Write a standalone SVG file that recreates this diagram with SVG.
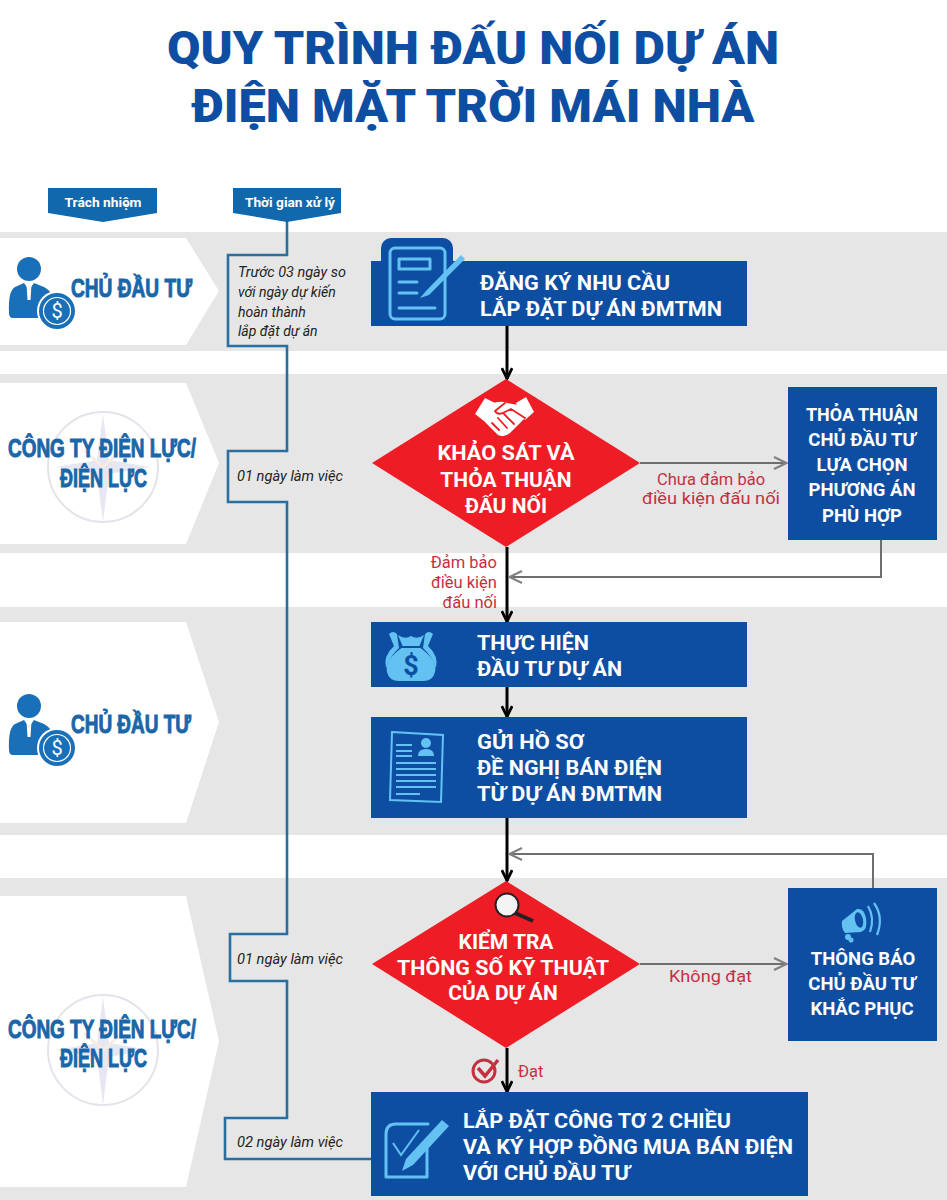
<svg xmlns="http://www.w3.org/2000/svg" xmlns:xlink="http://www.w3.org/1999/xlink" width="947" height="1200" viewBox="0 0 947 1200">
<style>
.band{fill:#e6e6e6}
.panel{fill:#fff}
.box{fill:#0d4ea3}
.dia{fill:#ee1c25}
.hdr{fill:#1268ad}
text{font-family:Roboto,"Liberation Sans",sans-serif}
.title{font-size:47px;font-weight:900;fill:#0d4ea3;text-anchor:middle}
.who{font-family:"Liberation Sans",Roboto,sans-serif;font-weight:700;fill:#1a66a8;stroke:#1a66a8;stroke-width:1;font-size:26px}
.h{font-size:13px;font-weight:700;fill:#fff;text-anchor:middle}
.t{font-size:14px;font-style:italic;fill:#222}
.w{font-weight:700;fill:#fff;font-size:21px}
.wm{font-weight:700;fill:#fff;font-size:21px;text-anchor:middle}
.wr{font-weight:700;fill:#fff;font-size:18.5px;text-anchor:middle}
.r{font-size:16.5px;fill:#c5303f;font-weight:400}
.tl{fill:none;stroke:#2b6f9f;stroke-width:2.6}
.blk{fill:none;stroke:#000;stroke-width:3;marker-end:url(#ab)}
.gry{fill:none;stroke:#6e6e6e;stroke-width:2;marker-end:url(#ag)}
.ic{fill:none;stroke:#63c2f2;stroke-width:3;stroke-linecap:round;stroke-linejoin:round}
.icf{fill:#63c2f2}
</style>
<defs>
<marker id="ab" viewBox="0 0 14 12" refX="13" refY="6" markerWidth="14" markerHeight="12" markerUnits="userSpaceOnUse" orient="auto"><path d="M2 0.8L12.5 6L2 11.2" fill="none" stroke="#000" stroke-width="2.8"/></marker>
<marker id="ag" viewBox="0 0 16 14" refX="15" refY="7" markerWidth="16" markerHeight="14" markerUnits="userSpaceOnUse" orient="auto"><path d="M2 1L14.500 7L2 13" fill="none" stroke="#808080" stroke-width="2.200"/></marker>
<g id="person">
<circle cx="29" cy="269" r="12" fill="#1a70b8"/>
<path d="M9 313Q8 291 15 287L24 283L29 290L34 283L44 287Q50 290 52 296Q40 300 39 318H13Q9 318 9 313Z" fill="#1a70b8"/>
<path d="M26.500 284L29 290L31.500 284L30.500 300H27.500Z" fill="#fff"/>
<circle cx="57" cy="311" r="20" fill="#fff"/>
<circle cx="57" cy="311" r="18" fill="#1a70b8"/>
<circle cx="57" cy="311" r="13.500" fill="none" stroke="#fff" stroke-width="1.200"/>
<text x="57" y="318" font-size="20" fill="#fff" text-anchor="middle">$</text>
</g>
<g id="logo" fill="none">
<circle cx="103" cy="467" r="55" stroke="#e2e4ea" stroke-width="2"/>
<path d="M103 414L109 460L150 467L109 474L103 522L97 474L56 467L97 460Z" fill="#e6e7f3"/>
<path d="M84 450L103 467L122 450" stroke="#f6ecdf" stroke-width="3"/>
</g>
</defs>

<g id="bands">
<rect class="band" x="0" y="232" width="947" height="119"/>
<rect class="band" x="0" y="374" width="947" height="179"/>
<rect class="band" x="0" y="607" width="947" height="228"/>
<rect class="band" x="0" y="878" width="947" height="322"/>
<path class="panel" d="M0 238H186L219 291L186 345H0Z"/>
<path class="panel" d="M0 383H186L219 463L186 544H0Z"/>
<path class="panel" d="M0 622H186L219 722L186 823H0Z"/>
<path class="panel" d="M0 896H186L219 1041L186 1187H0Z"/>
</g>

<g id="title">
<text class="title" x="473" y="64" textLength="612" lengthAdjust="spacingAndGlyphs">QUY TRÌNH ĐẤU NỐI DỰ ÁN</text>
<text class="title" x="473" y="122" textLength="563" lengthAdjust="spacingAndGlyphs">ĐIỆN MẶT TRỜI MÁI NHÀ</text>
</g>

<g id="header-trach-nhiem">
<path class="hdr" d="M48 188H157V213L103 222L48 213Z"/>
<text class="h" x="103" y="207" textLength="77" lengthAdjust="spacingAndGlyphs">Trách nhiệm</text>
</g>
<g id="timeline">
<path class="tl" d="M287 218V255H228V346H287V451H228V502H287V934H230V981H287V1118H225V1159H372"/>
</g>
<g id="header-thoi-gian">
<path class="hdr" d="M233 188H341V213L287 222L233 213Z"/>
<text class="h" x="290" y="207" textLength="90" lengthAdjust="spacingAndGlyphs">Thời gian xử lý</text>
</g>

<g id="time-labels">
<text class="t" x="238" y="277" textLength="108" lengthAdjust="spacingAndGlyphs">Trước 03 ngày so</text>
<text class="t" x="238" y="297">với ngày dự kiến</text>
<text class="t" x="238" y="317">hoàn thành</text>
<text class="t" x="238" y="336">lắp đặt dự án</text>
<text class="t" x="237" y="481" textLength="106" lengthAdjust="spacingAndGlyphs">01 ngày làm việc</text>
<text class="t" x="237" y="964" textLength="106" lengthAdjust="spacingAndGlyphs">01 ngày làm việc</text>
<text class="t" x="237" y="1147" textLength="106" lengthAdjust="spacingAndGlyphs">02 ngày làm việc</text>
</g>

<g id="who-1">
<use xlink:href="#person" href="#person"/>
<text class="who" x="71" y="297" textLength="121" lengthAdjust="spacingAndGlyphs">CHỦ ĐẦU TƯ</text>
</g>
<g id="who-2">
<use xlink:href="#logo" href="#logo"/>
<text class="who" x="8" y="457" textLength="188" lengthAdjust="spacingAndGlyphs">CÔNG TY ĐIỆN LỰC/</text>
<text class="who" x="60" y="487" textLength="87" lengthAdjust="spacingAndGlyphs">ĐIỆN LỰC</text>
</g>
<g id="who-3">
<use xlink:href="#person" href="#person" y="437"/>
<text class="who" x="71" y="733" textLength="120" lengthAdjust="spacingAndGlyphs">CHỦ ĐẦU TƯ</text>
</g>
<g id="who-4">
<use xlink:href="#logo" href="#logo" y="583"/>
<text class="who" x="8" y="1038" textLength="188" lengthAdjust="spacingAndGlyphs">CÔNG TY ĐIỆN LỰC/</text>
<text class="who" x="60" y="1067" textLength="87" lengthAdjust="spacingAndGlyphs">ĐIỆN LỰC</text>
</g>

<g id="connectors">
<path class="blk" d="M507 326V379"/>
<path class="blk" d="M507 547V622"/>
<path class="blk" d="M507 687V717"/>
<path class="blk" d="M507 818V881"/>
<path class="blk" d="M507 1048V1092"/>
<path class="gry" d="M640 463H787"/>
<path class="gry" d="M881 540V577H509"/>
<path class="gry" d="M640 964H787"/>
<path class="gry" d="M873 888V854H509"/>
</g>

<g id="node-dang-ky">
<rect class="box" x="371" y="261" width="376" height="65"/>
<rect class="box" x="381" y="238" width="72" height="50" rx="10"/>
<rect class="ic" x="390" y="248" width="55" height="71" rx="5"/>
<path class="ic" d="M399 259H430V269H399ZM399 282H417M399 293H417M399 308H435" stroke-width="2.500"/>
<path d="M461 255L426 291L420 298L429 295L465 259Z" class="icf"/>
<text class="w" x="480" y="290" textLength="190" lengthAdjust="spacingAndGlyphs">ĐĂNG KÝ NHU CẦU</text>
<text class="w" x="480" y="316" textLength="242" lengthAdjust="spacingAndGlyphs">LẮP ĐẶT DỰ ÁN ĐMTMN</text>
</g>

<g id="node-khao-sat">
<path class="dia" d="M506 379L640 463L506 547L372 463Z"/>
<path d="M485 398L475 414L484 421L495 403Z" fill="#fff"/>
<path d="M526 397L534 412L525 420L516 403Z" fill="#fff"/>
<path d="M491 404Q500 400 507 403L519 405L526 417L510 433Q504 438 498 435L484 421Z" fill="#fff"/>
<path d="M505 403L495 411Q498 416 505 412L511 409L525 418M492 423L499 430M498 418L507 428M504 414L514 424" fill="none" stroke="#ee1c25" stroke-width="1.800" stroke-linecap="round" stroke-linejoin="round"/>
<text class="wm" x="506" y="460" textLength="137" lengthAdjust="spacingAndGlyphs">KHẢO SÁT VÀ</text>
<text class="wm" x="506" y="487">THỎA THUẬN</text>
<text class="wm" x="506" y="513">ĐẤU NỐI</text>
</g>

<g id="node-thoa-thuan">
<rect class="box" x="788" y="387" width="149" height="153"/>
<text class="wr" x="862" y="421" textLength="112" lengthAdjust="spacingAndGlyphs">THỎA THUẬN</text>
<text class="wr" x="862" y="446">CHỦ ĐẦU TƯ</text>
<text class="wr" x="862" y="471">LỰA CHỌN</text>
<text class="wr" x="862" y="496">PHƯƠNG ÁN</text>
<text class="wr" x="862" y="522">PHÙ HỢP</text>
</g>

<g id="edge-labels">
<text class="r" x="711" y="485" text-anchor="middle">Chưa đảm bảo</text>
<text class="r" x="711" y="504" text-anchor="middle" textLength="138" lengthAdjust="spacingAndGlyphs">điều kiện đấu nối</text>
<text class="r" x="497" y="568" text-anchor="end">Đảm bảo</text>
<text class="r" x="497" y="588" text-anchor="end">điều kiện</text>
<text class="r" x="497" y="608" text-anchor="end">đấu nối</text>
<text class="r" x="669" y="982" textLength="83" lengthAdjust="spacingAndGlyphs">Không đạt</text>
<text class="r" x="518" y="1077">Đạt</text>
<circle cx="484" cy="1071" r="11" fill="none" stroke="#c5303f" stroke-width="3"/>
<path d="M478 1068L485 1076L498 1060" fill="none" stroke="#c5303f" stroke-width="3.500"/>
</g>

<g id="node-thuc-hien">
<rect class="box" x="371" y="622" width="376" height="65"/>
<path class="icf" d="M389 634Q393 630 397 634L399 648Q390 656 386 668Q383 656 394 646ZM433 634Q429 630 425 634L423 648Q432 656 436 668Q439 656 428 646Z"/>
<path class="icf" d="M398 635Q405 640 411 636Q417 640 424 635L419 647Q438 660 435 672Q433 681 423 681H399Q389 681 387 672Q384 660 403 647Z"/>
<path d="M402 647H420" stroke="#0d4ea3" stroke-width="2"/>
<text x="411" y="675" font-size="27" font-weight="700" fill="#0d4ea3" text-anchor="middle">$</text>
<text class="w" x="477" y="650" textLength="112" lengthAdjust="spacingAndGlyphs">THỰC HIỆN</text>
<text class="w" x="477" y="676" textLength="145" lengthAdjust="spacingAndGlyphs">ĐẦU TƯ DỰ ÁN</text>
</g>

<g id="node-gui-ho-so">
<rect class="box" x="371" y="717" width="376" height="101"/>
<path d="M392 732L443 735L441 802L390 800Z" fill="none" stroke="#63c2f2" stroke-width="2"/>
<circle cx="426" cy="743" r="5" class="icf"/>
<path d="M418 756Q418 749 426 749Q434 749 434 756Z" class="icf"/>
<path d="M396 745H412M396 751H412M396 756H412M396 763H436M396 769H436M396 775H436M396 781H436M396 787H436M396 794H420" stroke="#63c2f2" stroke-width="1.800"/>
<text class="w" x="477" y="749" textLength="107" lengthAdjust="spacingAndGlyphs">GỬI HỒ SƠ</text>
<text class="w" x="477" y="775" textLength="185" lengthAdjust="spacingAndGlyphs">ĐỀ NGHỊ BÁN ĐIỆN</text>
<text class="w" x="477" y="801" textLength="185" lengthAdjust="spacingAndGlyphs">TỪ DỰ ÁN ĐMTMN</text>
</g>

<g id="node-kiem-tra">
<path class="dia" d="M506 881L640 964L506 1048L372 964Z"/>
<path d="M515 913L533 921" stroke="#222" stroke-width="4"/>
<circle cx="507" cy="905" r="11.500" fill="#f4f4f4" stroke="#222" stroke-width="2"/>
<text class="wm" x="506" y="949">KIỂM TRA</text>
<text class="wm" x="503" y="975" textLength="212" lengthAdjust="spacingAndGlyphs">THÔNG SỐ KỸ THUẬT</text>
<text class="wm" x="503" y="1000">CỦA DỰ ÁN</text>
</g>

<g id="node-thong-bao">
<rect class="box" x="788" y="888" width="149" height="153"/>
<path class="icf" d="M842 921L857 909Q864 908 866 918Q868 930 861 932L845 933Q841 928 842 921Z"/>
<ellipse cx="859" cy="920" rx="4" ry="8" fill="#0d4ea3" transform="rotate(-12 859 920)"/>
<circle cx="848" cy="937" r="3" class="icf"/>
<circle cx="851" cy="940" r="2.500" class="icf"/>
<path d="M868 906Q875 918 870 932M874 903Q884 917 877 935" fill="none" stroke="#63c2f2" stroke-width="2.200"/>
<text class="wr" x="863" y="965">THÔNG BÁO</text>
<text class="wr" x="862" y="990">CHỦ ĐẦU TƯ</text>
<text class="wr" x="862" y="1015">KHẮC PHỤC</text>
</g>

<g id="node-lap-dat">
<rect class="box" x="371" y="1092" width="437" height="104"/>
<path class="ic" d="M428 1124H396Q386 1124 386 1134V1177H427V1142" stroke-width="2"/>
<path d="M393 1143L401 1155L419 1130" fill="none" stroke="#63c2f2" stroke-width="2"/>
<path class="icf" d="M442 1120L449 1126L413 1165L402 1171L406 1159Z"/>
<text class="w" x="463" y="1128" textLength="268" lengthAdjust="spacingAndGlyphs">LẮP ĐẶT CÔNG TƠ 2 CHIỀU</text>
<text class="w" x="463" y="1154" textLength="330" lengthAdjust="spacingAndGlyphs">VÀ KÝ HỢP ĐỒNG MUA BÁN ĐIỆN</text>
<text class="w" x="463" y="1180" textLength="167" lengthAdjust="spacingAndGlyphs">VỚI CHỦ ĐẦU TƯ</text>
</g>
</svg>
